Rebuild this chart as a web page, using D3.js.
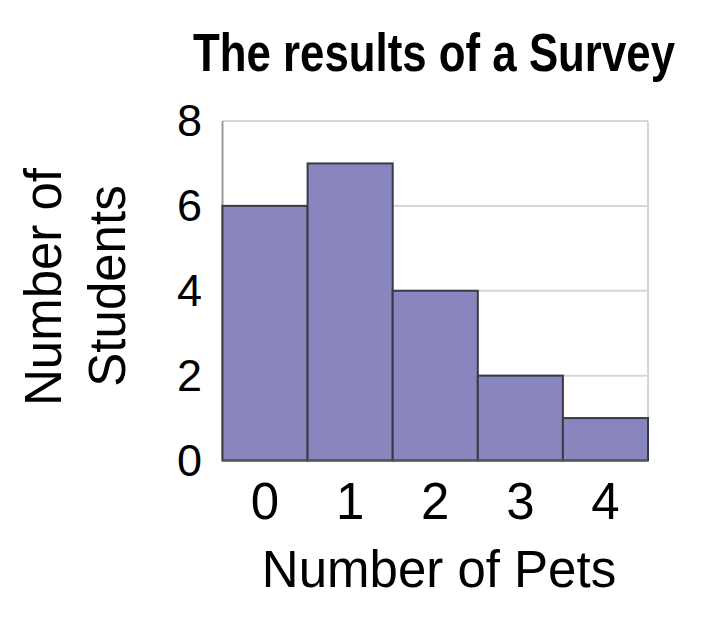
<!DOCTYPE html>
<html>
<head>
  <meta charset="utf-8">
  <script src="https://d3js.org/d3.v7.min.js"></script>
  <style>
    body { margin: 0; background: #fff; }
    text { font-family: "Liberation Sans", Arial, sans-serif; fill: #000; }
  </style>
</head>
<body>
  <script>
    // survey data
    var pets = ["0", "1", "2", "3", "4"];
    var students = [6, 7, 4, 2, 1];
    var yTicks = [0, 2, 4, 6, 8];

    var width = 715, height = 635;
    var plotLeft = 222.5, plotRight = 648, plotTop = 121, plotBottom = 460.5;

    var svg = d3.select("body").append("svg")
        .attr("width", width)
        .attr("height", height);

    var x = d3.scaleBand().domain(pets).range([plotLeft, plotRight]).padding(0);
    var y = d3.scaleLinear().domain([0, 8]).range([plotBottom, plotTop]);

    // gridlines
    svg.append("g").selectAll("line")
      .data(yTicks.filter(function (d) { return d > 0; }))
      .enter().append("line")
        .attr("x1", plotLeft).attr("x2", plotRight)
        .attr("y1", function (d) { return y(d); })
        .attr("y2", function (d) { return y(d); })
        .attr("stroke", "#d6d6d6")
        .attr("stroke-width", 2);

    // right border
    svg.append("line")
      .attr("x1", plotRight).attr("x2", plotRight)
      .attr("y1", plotTop).attr("y2", plotBottom)
      .attr("stroke", "#d6d6d6").attr("stroke-width", 2);

    // left axis line
    svg.append("line")
      .attr("x1", plotLeft).attr("x2", plotLeft)
      .attr("y1", plotTop).attr("y2", plotBottom)
      .attr("stroke", "#9a9a9a").attr("stroke-width", 2);

    // bars
    svg.append("g").selectAll("rect")
      .data(students)
      .enter().append("rect")
        .attr("x", function (d, i) { return x(pets[i]); })
        .attr("y", function (d) { return y(d); })
        .attr("width", x.bandwidth())
        .attr("height", function (d) { return y(0) - y(d); })
        .attr("fill", "#8986bf")
        .attr("stroke", "#3a3a44")
        .attr("stroke-width", 2);

    // baseline
    svg.append("line")
      .attr("x1", plotLeft).attr("x2", plotRight)
      .attr("y1", plotBottom).attr("y2", plotBottom)
      .attr("stroke", "#555").attr("stroke-width", 2);

    // y tick labels
    svg.append("g").selectAll("text")
      .data(yTicks)
      .enter().append("text")
        .attr("x", 202)
        .attr("y", function (d) { return y(d) + 15; })
        .attr("text-anchor", "end")
        .style("font-size", "45px")
        .text(function (d) { return d; });

    // x tick labels
    svg.append("g").selectAll("text")
      .data(pets)
      .enter().append("text")
        .attr("x", function (d) { return x(d) + x.bandwidth() / 2; })
        .attr("y", 519)
        .attr("text-anchor", "middle")
        .style("font-size", "51px")
        .text(function (d) { return d; });

    // title
    svg.append("text")
      .attr("x", 434)
      .attr("y", 71)
      .attr("text-anchor", "middle")
      .attr("textLength", 482)
      .attr("lengthAdjust", "spacingAndGlyphs")
      .style("font-family", "'Liberation Sans Narrow', 'Arial Narrow', 'Liberation Sans', sans-serif")
      .style("font-weight", "bold")
      .style("font-size", "53px")
      .text("The results of a Survey");

    // x axis title
    svg.append("text")
      .attr("x", 439)
      .attr("y", 587)
      .attr("text-anchor", "middle")
      .style("font-size", "51px")
      .text("Number of Pets");

    // y axis title, two lines
    svg.append("text")
      .attr("transform", "translate(61,287) rotate(-90)")
      .attr("text-anchor", "middle")
      .style("font-size", "51px")
      .text("Number of");
    svg.append("text")
      .attr("transform", "translate(125,286) rotate(-90)")
      .attr("text-anchor", "middle")
      .style("font-size", "51px")
      .text("Students");
  </script>
</body>
</html>
